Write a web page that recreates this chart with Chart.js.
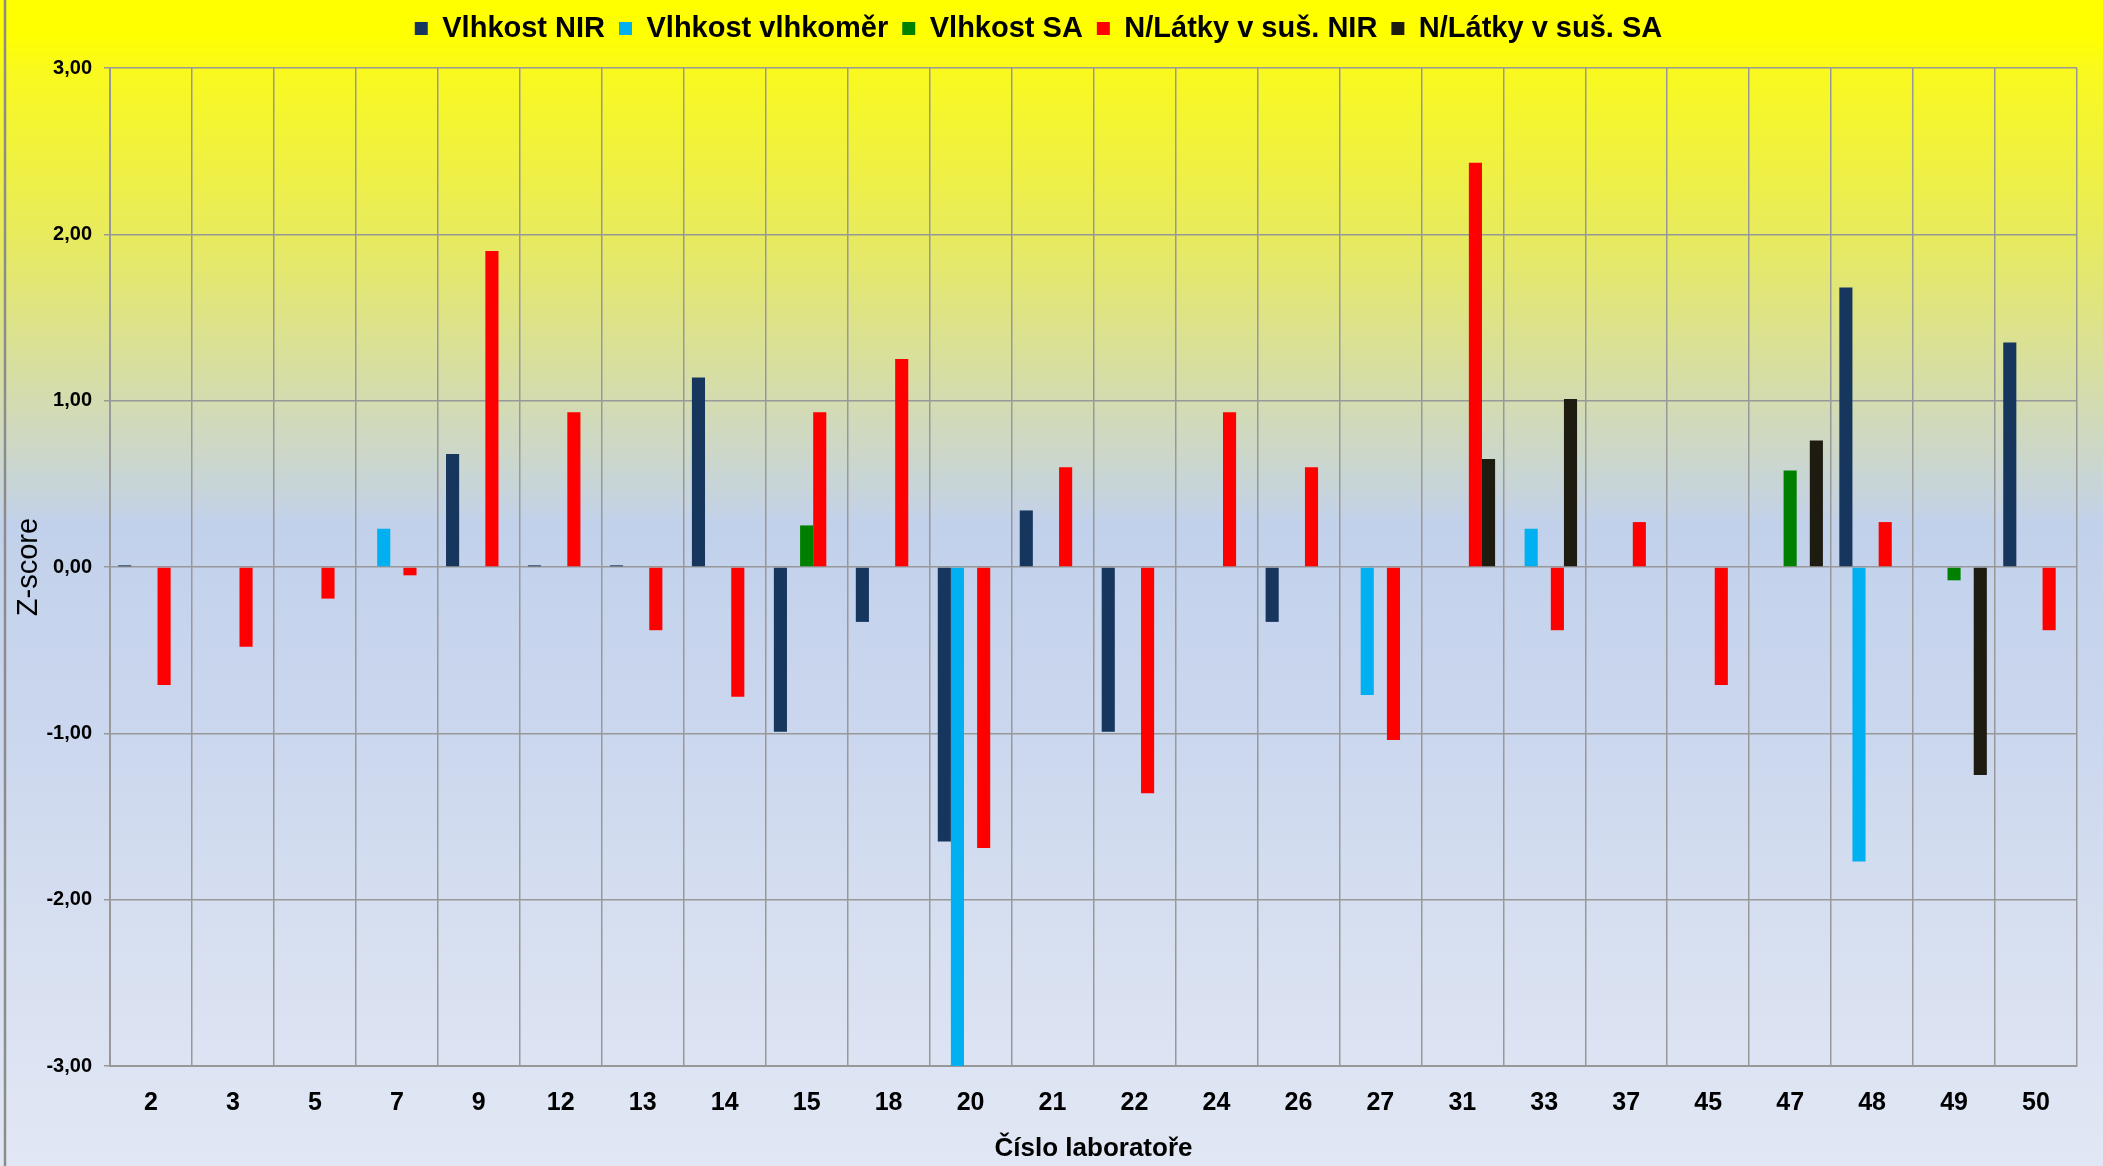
<!DOCTYPE html>
<html>
<head>
<meta charset="utf-8">
<script src="https://cdn.jsdelivr.net/npm/chart.js@4.4.1/dist/chart.umd.min.js"></script>
<style>
  html, body { margin: 0; padding: 0; background: #fff; }
  #wrap { width: 2103px; height: 1166px; position: relative; }
</style>
</head>
<body>
<div id="wrap"><canvas id="chart"></canvas></div>
<script>
// laboratory numbers (x axis)
const labs = ["2", "3", "5", "7", "9", "12", "13", "14", "15", "18", "20", "21", "22", "24", "26", "27", "31", "33", "37", "45", "47", "48", "49", "50"]

// z-scores per series, null = no result
const vlhkostNIR = [0.01, null, null, null, 0.68, 0.01, 0.01, 1.14, -0.99, -0.33, -1.65, 0.34, -0.99, null, -0.33, null, null, null, null, null, null, 1.68, null, 1.35]
const vlhkostVlhkomer = [null, null, null, 0.23, null, null, null, null, null, null, -3.0, null, null, null, null, -0.77, null, 0.23, null, null, null, -1.77, null, null]
const vlhkostSA = [null, null, null, null, null, null, null, null, 0.25, null, null, null, null, null, null, null, null, null, null, null, 0.58, null, -0.08, null]
const latkyNIR = [-0.71, -0.48, -0.19, -0.05, 1.90, 0.93, -0.38, -0.78, 0.93, 1.25, -1.69, 0.60, -1.36, 0.93, 0.60, -1.04, 2.43, -0.38, 0.27, -0.71, null, 0.27, null, -0.38]
const latkySA = [null, null, null, null, null, null, null, null, null, null, null, null, null, null, null, null, 0.65, 1.01, null, null, 0.76, null, -1.25, null]

const gridColor = "#989898"
const fontFamily = "'Liberation Sans', Arial, sans-serif"

// whole-picture gradient, yellow on top fading into pale blue
const background = {
  id: "background",
  beforeDraw(chart) {
    const ctx = chart.ctx
    const h = chart.height
    const g = ctx.createLinearGradient(0, 0, 0, h)
    g.addColorStop(0, "#ffff00")
    g.addColorStop(0.03, "#ffff00")
    g.addColorStop(0.06, "#f9f91e")
    g.addColorStop(0.2, "#e8eb5c")
    g.addColorStop(0.34, "#d4dcae")
    g.addColorStop(0.45, "#c2d1eb")
    g.addColorStop(0.63, "#cbd7ee")
    g.addColorStop(0.77, "#d5def0")
    g.addColorStop(1, "#e1e7f4")
    ctx.save()
    ctx.fillStyle = g
    ctx.fillRect(0, 0, chart.width, h)
    ctx.strokeStyle = "#8c8c8c"
    ctx.lineWidth = 2.5
    ctx.beginPath()
    ctx.moveTo(5, 0)
    ctx.lineTo(5, h)
    ctx.stroke()
    ctx.restore()
  }
}

// keep the legend band as tall as in the original
const legendHeight = {
  id: "legendHeight",
  beforeInit(chart) {
    const fit = chart.legend.fit
    chart.legend.fit = function () {
      fit.bind(chart.legend)()
      this.height = 68
    }
  }
}

function ds(label, data, color) {
  return { label: label, data: data, backgroundColor: color, borderWidth: 0 }
}

new Chart(document.getElementById("chart").getContext("2d"), {
  type: "bar",
  data: {
    labels: labs,
    datasets: [
      ds("Vlhkost NIR", vlhkostNIR, "#17365d"),
      ds("Vlhkost vlhkoměr", vlhkostVlhkomer, "#00b0f0"),
      ds("Vlhkost SA", vlhkostSA, "#008000"),
      ds("N/Látky v suš. NIR", latkyNIR, "#ff0000"),
      ds("N/Látky v suš. SA", latkySA, "#1e1c11")
    ]
  },
  options: {
    responsive: true,
    maintainAspectRatio: false,
    animation: false,
    devicePixelRatio: 1,
    categoryPercentage: 0.8,
    barPercentage: 1.0,
    layout: { padding: { left: 0, right: 26, top: 0, bottom: 0 } },
    plugins: {
      tooltip: { enabled: false },
      legend: {
        position: "top",
        labels: {
          boxWidth: 13,
          boxHeight: 13,
          padding: 14,
          color: "#000",
          font: { family: fontFamily, size: 29, weight: "bold" }
        }
      }
    },
    scales: {
      x: {
        afterFit(scale) { scale.height = 100 },
        grid: { offset: true, color: gridColor, lineWidth: 1.5, drawTicks: false },
        border: { color: gridColor, width: 2 },
        ticks: {
          color: "#000",
          padding: 22,
          maxRotation: 0,
          font: { family: fontFamily, size: 25, weight: "bold" }
        },
        title: {
          display: true,
          text: "Číslo laboratoře",
          color: "#000",
          padding: { top: 0, bottom: 2 },
          font: { family: fontFamily, size: 26, weight: "bold" }
        }
      },
      y: {
        min: -3,
        max: 3,
        afterFit(scale) { scale.width = 110 },
        grid: { color: gridColor, lineWidth: 1.5, tickLength: 6 },
        border: { color: gridColor, width: 2 },
        ticks: {
          stepSize: 1,
          color: "#000",
          padding: 12,
          font: { family: fontFamily, size: 20, weight: "bold" },
          callback: (v) => v.toFixed(2).replace(".", ",")
        },
        title: {
          display: true,
          text: "Z-score",
          color: "#000",
          padding: { top: 12, bottom: 0 },
          font: { family: fontFamily, size: 29 }
        }
      }
    }
  },
  plugins: [background, legendHeight]
})
</script>
</body>
</html>
